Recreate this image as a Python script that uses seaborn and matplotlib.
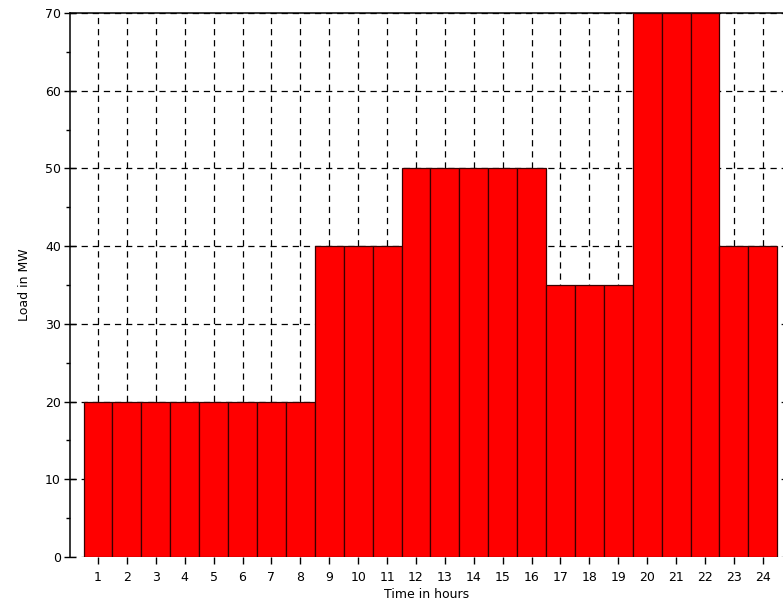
import numpy as np
import pandas as pd
import matplotlib
matplotlib.use("Agg")
import matplotlib.pyplot as plt
from matplotlib.ticker import MultipleLocator
import seaborn as sns

hours = [str(h) for h in range(1, 25)]
load_mw = [20, 20, 20, 20, 20, 20, 20, 20,
           40, 40, 40,
           50, 50, 50, 50, 50,
           35, 35, 35,
           70, 70, 70,
           40, 40]

df = pd.DataFrame({'hour': hours, 'load': load_mw})

sns.set_theme(style='ticks')
plt.rcParams['font.family'] = ['DejaVu Sans']
plt.rcParams['lines.scale_dashes'] = False

fig = plt.figure(figsize=(7.83, 6.13), dpi=100)
ax = fig.add_axes([0.0894, 0.0914, 0.9106, 0.8874])

sns.barplot(data=df, x='hour', y='load', color='red', saturation=1,
            width=1.0, edgecolor='#3a0000', linewidth=0.9, ax=ax, zorder=3)

ax.set_axisbelow(True)
ax.grid(True, which='major', color='black', linestyle=(0, (4.5, 3.5)), linewidth=0.9, zorder=0)
ax.set_ylim(0, 70)
ax.set_xlim(-0.97, 23.7)
ax.yaxis.set_major_locator(MultipleLocator(10))
ax.yaxis.set_minor_locator(MultipleLocator(5))

ax.spines['bottom'].set_visible(False)
ax.spines['right'].set_visible(False)
for s in ['left', 'top']:
    ax.spines[s].set_color('black')
    ax.spines[s].set_linewidth(1.1)

ax.tick_params(axis='x', which='major', direction='out', length=5, width=1,
               color='black', labelsize=9, labelcolor='black', pad=5)
ax.tick_params(axis='y', which='major', direction='inout', length=9, width=1,
               color='black', labelsize=9, labelcolor='black', pad=2)
ax.tick_params(axis='y', which='minor', direction='out', length=3, width=1, color='black')

ax.set_xlabel('Time in hours', fontsize=9, color='black', labelpad=3)
ax.set_ylabel('Load in MW', fontsize=9, color='black', labelpad=10)

fig.savefig('out.png', dpi=100, facecolor='white')
